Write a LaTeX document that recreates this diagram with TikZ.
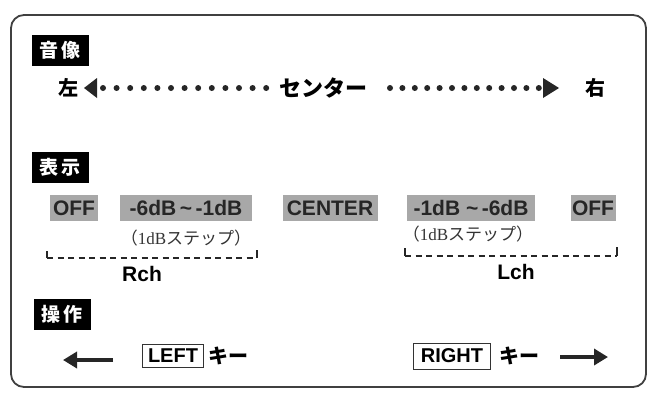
\documentclass[tikz,border=0pt]{standalone}
\usepackage{fontspec}
\setmainfont{Liberation Sans}
\newfontfamily\cjk{Noto Sans CJK JP}
\newfontfamily\serifnum{Liberation Serif}
\usetikzlibrary{arrows.meta}
\definecolor{panelgray}{gray}{0.66}
\definecolor{framegray}{gray}{0.25}
\newcommand{\wave}{\textasciitilde}
\begin{document}
\begin{tikzpicture}[x=1pt,y=-1pt,
  hdr/.style={fill=black,text=white,font=\cjk\bfseries\fontsize{19}{19}\selectfont,
    minimum width=57pt,minimum height=31pt,inner sep=0pt},
  lbl/.style={font=\cjk\bfseries\fontsize{20}{20}\selectfont,inner sep=0pt},
  panel/.style={fill=panelgray,text=black!85,font=\bfseries\fontsize{21}{21}\selectfont,
    minimum height=26pt,inner sep=0pt},
  note/.style={font=\cjk\fontsize{17}{17}\selectfont,text=black!80,inner sep=0pt},
  chname/.style={font=\bfseries\fontsize{21}{21}\selectfont,inner sep=0pt},
  keybox/.style={draw=black!80,line width=1pt,font=\bfseries\fontsize{20}{20}\selectfont,
    inner sep=0pt},
  bracket/.style={line width=1.8pt,black!85,dash pattern=on 6pt off 4.5pt},
  tick/.style={line width=1.8pt,black!85},
  bigarrow/.style={line width=4.5pt,black!85,-{Triangle[length=14pt,width=16pt]}},
  dot/.style={fill=black!85}]
\useasboundingbox (0,0) rectangle (652,392);

% outer frame
\draw[line width=1.8pt,framegray,rounded corners=13pt] (11,15) rectangle (646,387);

% section headers
\node[hdr] (h1) at (60,50) {音\hspace{4pt}像};
\node[hdr] (h2) at (60,167) {表\hspace{4pt}示};
\node[hdr] (h3) at (62,314) {操\hspace{4pt}作};

% sound image row
\node[lbl] (left) at (68,88) {左};
\node[lbl,font=\cjk\bfseries\fontsize{22}{22}\selectfont] (center) at (323,88) {センター};
\node[lbl] (right) at (595,88) {右};
\fill[black!85] (84,88) -- (97,78) -- (97,98) -- cycle;
\fill[black!85] (559,88) -- (543,78) -- (543,98) -- cycle;
\foreach \i in {0,...,12} {
  \fill[dot] ({103+\i*13.6},88) circle (3pt);
  \fill[dot] ({390+\i*12.4},88) circle (3pt);
}

% display row
\node[panel,minimum width=48pt] (offl) at (74,208) {OFF};
\node[panel,minimum width=132pt] (rng1) at (186,208) {-6dB\,\wave\,-1dB};
\node[panel,minimum width=95pt] (cen) at (330,208) {CENTER};
\node[panel,minimum width=128pt] (rng2) at (471,208) {-1dB \wave\,-6dB};
\node[panel,minimum width=45pt] (offr) at (593,208) {OFF};
\node[note] (s1) at (186,238) {（{\serifnum 1dB}ステップ）};
\node[note] (s2) at (468,234) {（{\serifnum 1dB}ステップ）};

% channel brackets
\coordinate (r0) at (47,258);
\coordinate (r1) at (257,258);
\coordinate (l0) at (405,256);
\coordinate (l1) at (617,256);
\draw[bracket] (r0) -- (r1);
\draw[bracket] (l0) -- (l1);
\draw[tick] (r0) -- ++(0,-7);
\draw[tick] (r1) -- ++(0,-8);
\draw[tick] (l0) -- ++(0,-8);
\draw[tick] (l1) -- ++(0,-9);
\node[chname] (rch) at (142,274) {Rch};
\node[chname] (lch) at (516,272) {Lch};

% operation row
\coordinate (la0) at (113,360);
\coordinate (la1) at (63,360);
\draw[bigarrow] (la0) -- (la1);
\node[keybox,minimum width=61pt,minimum height=23pt] (lkey) at (173,356) {LEFT};
\node[lbl,anchor=west] (lkt) at (208,356) {キー};
\node[keybox,minimum width=77pt,minimum height=26pt] (rkey) at (452,356) {RIGHT};
\node[lbl,anchor=west] (rkt) at (499,356) {キー};
\coordinate (ra0) at (560,357);
\coordinate (ra1) at (608,357);
\draw[bigarrow] (ra0) -- (ra1);
\end{tikzpicture}
\end{document}
